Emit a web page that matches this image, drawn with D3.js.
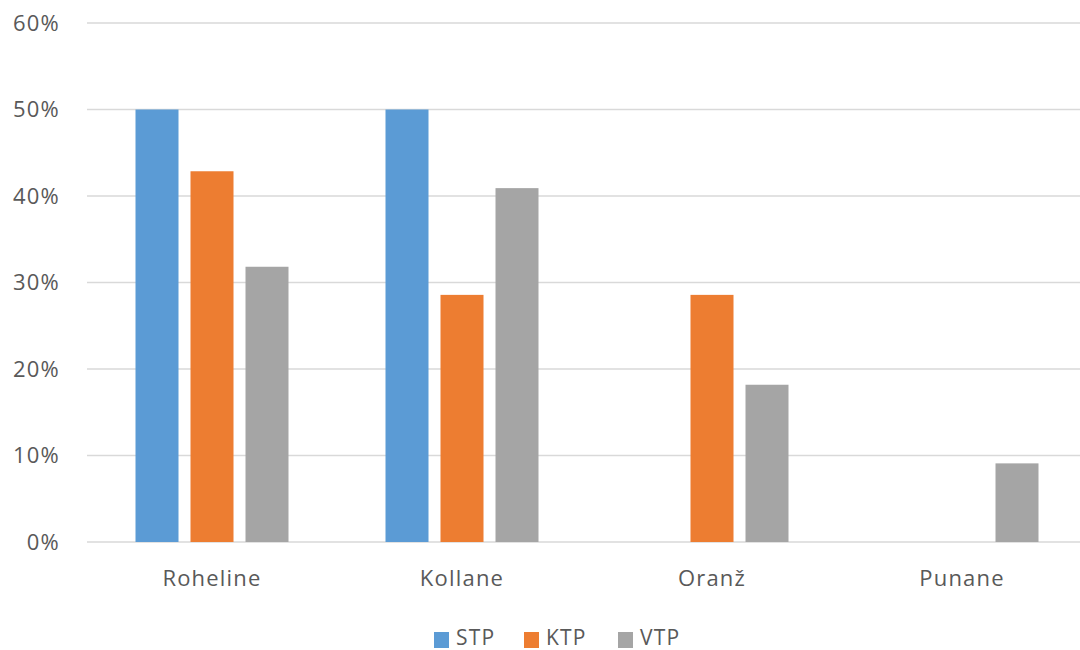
<!DOCTYPE html>
<html><head><meta charset="utf-8">
<script src="https://cdn.jsdelivr.net/npm/d3@7"></script>
<style>body{margin:0;background:#fff;} text{font-family:"Open Sans","Liberation Sans",sans-serif;fill:#595959;letter-spacing:1.2px;}</style>
</head><body><svg id="c" width="1080" height="650"></svg>
<script>
const categories = ["Roheline","Kollane","Oranž","Punane"];
const seriesNames = ["STP","KTP","VTP"];
const STP = [0.50, 0.50, 0, 0];
const KTP = [0.4286, 0.2857, 0.2857, 0];
const VTP = [0.3182, 0.4091, 0.1818, 0.0909];
const yTicks = [0,0.1,0.2,0.3,0.4,0.5,0.6];
const colors = ["#5B9BD5","#ED7D31","#A5A5A5"];
const seriesVals = [STP,KTP,VTP];

const svg = d3.select("#c");
const x0 = d3.scaleBand().domain(categories).range([87,1087]).paddingInner(0).paddingOuter(0);
const y = d3.scaleLinear().domain([0,0.6]).range([542,23]);
const barW = 43, gap = 12;
const x1 = i => x0.bandwidth()/2 - (3*barW+2*gap)/2 + i*(barW+gap);

// gridlines
svg.append("g").selectAll("line").data(yTicks).join("line")
  .attr("x1",87).attr("x2",1080).attr("y1",d=>y(d)).attr("y2",d=>y(d))
  .attr("stroke","#D9D9D9").attr("stroke-width",1.5);

// y labels
const yAxis = d3.axisLeft(y).tickValues(yTicks).tickFormat(d3.format(".0%")).tickSize(0).tickPadding(0);
const ya = svg.append("g").attr("transform","translate(60,0)").call(yAxis);
ya.select(".domain").remove();
ya.selectAll("text").style("font-size","22px").attr("fill","#595959").style("font-family",null);

// bars
seriesVals.forEach((vals,si)=>{
  svg.append("g").selectAll("rect").data(vals.map((v,ci)=>({v,c:categories[ci]}))).join("rect")
    .attr("x",d=>x0(d.c)+x1(si)).attr("width",barW)
    .attr("y",d=>y(d.v)).attr("height",d=>y(0)-y(d.v))
    .attr("fill",colors[si]);
});

// x labels
const xAxis = d3.axisBottom(x0).tickSize(0).tickPadding(0);
const xa = svg.append("g").attr("transform","translate(0,586)").call(xAxis);
xa.select(".domain").remove();
xa.selectAll("text").style("font-size","22px").attr("fill","#595959").attr("y",0).attr("dy","0").style("font-family",null);

// legend
const legX = [434,524,618];
const lg = svg.append("g");
seriesNames.forEach((n,i)=>{
  lg.append("rect").attr("x",legX[i]).attr("y",632).attr("width",15).attr("height",16).attr("fill",colors[i]);
  lg.append("text").attr("x",legX[i]+22).attr("y",645).style("font-size","21px").text(n);
});
</script></body></html>
